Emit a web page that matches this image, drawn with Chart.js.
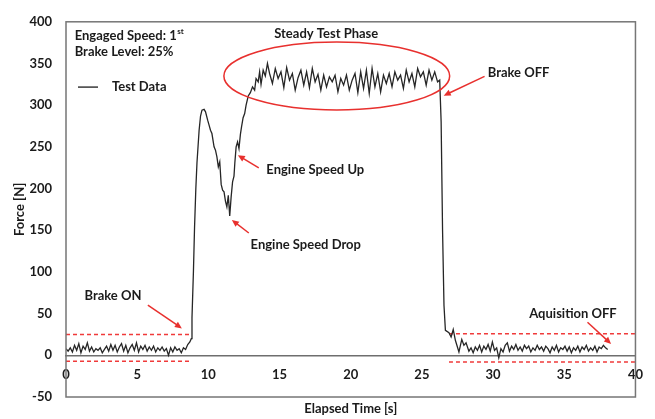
<!DOCTYPE html>
<html>
  <head>
    <meta charset="utf-8">
    <script src="https://cdn.jsdelivr.net/npm/chart.js@4.4.1/dist/chart.umd.min.js"></script>
    <style>
      body { margin: 0; background: #fff; }
    </style>
  </head>
  <body>
    <canvas id="forceChart" width="655" height="419"></canvas>
    <script>
      // measured force trace, time in s, force in N
      let timeS = [
        // idle, before brake
        0.0, 0.15, 0.3, 0.45, 0.6, 0.75, 0.9, 1.05, 1.2, 1.35,
        1.5, 1.65, 1.8, 1.95, 2.1, 2.25, 2.4, 2.55, 2.7, 2.85,
        3.0, 3.15, 3.3, 3.45, 3.6, 3.75, 3.9, 4.05, 4.2, 4.35,
        4.5, 4.65, 4.8, 4.95, 5.1, 5.25, 5.4, 5.55, 5.7, 5.85,
        6.0, 6.15, 6.3, 6.45, 6.6, 6.75, 6.9, 7.05, 7.2, 7.35,
        7.5, 7.65, 7.8, 7.95, 8.1, 8.25, 8.4, 8.55, 8.7,
        // brake on, engine speed drop / up
        8.8, 8.85, 8.95, 9.03, 9.12, 9.2, 9.35, 9.45, 9.55, 9.7,
        9.8, 9.95, 10.05, 10.15, 10.25, 10.4, 10.5, 10.6, 10.7, 10.8,
        10.9, 11.0, 11.1, 11.2, 11.3, 11.4, 11.5, 11.6, 11.7, 11.8,
        11.86, 11.95, 12.05, 12.15, 12.25, 12.33, 12.44, 12.55, 12.65, 12.8,
        12.95, 13.1, 13.25, 13.35, 13.5, 13.6, 13.7, 13.85, 14.0, 14.15,
        // steady phase
        14.3, 14.5, 14.7, 14.9, 15.1, 15.3, 15.5, 15.7, 15.9, 16.1,
        16.3, 16.5, 16.7, 16.9, 17.1, 17.3, 17.5, 17.7, 17.9, 18.1,
        18.3, 18.5, 18.7, 18.9, 19.1, 19.3, 19.5, 19.7, 19.9, 20.1,
        20.3, 20.5, 20.7, 20.9, 21.1, 21.3, 21.5, 21.7, 21.9, 22.1,
        22.3, 22.5, 22.7, 22.9, 23.1, 23.3, 23.5, 23.7, 23.9, 24.1,
        24.3, 24.5, 24.7, 24.9, 25.1, 25.3, 25.5, 25.7, 25.9, 26.1,
        // brake off
        26.25, 26.35, 26.45, 26.55, 26.65, 26.9, 27.05, 27.2, 27.35, 27.6,
        27.8, 27.95, 28.1, 28.3,
        // idle until acquisition off
        28.45, 28.6, 28.75, 28.9, 29.05, 29.2, 29.35, 29.5, 29.65, 29.8,
        29.95, 30.1, 30.25, 30.4, 30.55, 30.7, 30.85, 31.0, 31.15, 31.3,
        31.45, 31.6, 31.75, 31.9, 32.05, 32.2, 32.35, 32.5, 32.65, 32.8,
        32.95, 33.1, 33.25, 33.4, 33.55, 33.7, 33.85, 34.0, 34.15, 34.3,
        34.45, 34.6, 34.75, 34.9, 35.05, 35.2, 35.35, 35.5, 35.65, 35.8,
        35.95, 36.1, 36.25, 36.4, 36.55, 36.7, 36.85, 37.0, 37.15, 37.3,
        37.45, 37.6, 37.75, 37.9, 38.05
      ];
      let forceN = [
        8, 5, 9, 4, 12, 6, 14, 3, 11, 7,
        15, 5, 10, 4, 8, 6, 9, 3, 7, 11,
        5, 13, 6, 12, 4, 10, 14, 5, 12, 3,
        9, 13, 6, 15, 4, 11, 7, 12, 5, 10,
        6, 11, 4, 9, 6, 10, 5, 8, 0, 9,
        4, 10, 6, 8, 3, 9, 7, 13, 16,

        20, 45, 100, 154, 200, 231, 270, 287, 294, 295,
        292, 282, 276, 270, 266, 250, 246, 238, 226, 232,
        205, 198, 196, 185, 178, 192, 167, 190, 208, 215,
        231, 250, 256, 248, 265, 274, 285, 290, 300, 311,
        315, 322, 318, 332, 328, 340, 325, 342, 335, 350,

        338, 326, 344, 332, 340, 321, 345, 330, 338, 318,
        333, 342, 324, 340, 321, 344, 328, 337, 318, 336,
        322, 334, 328, 336, 316, 332, 324, 336, 318, 330,
        338, 315, 340, 320, 342, 314, 344, 322, 338, 316,
        336, 326, 338, 322, 340, 330, 336, 320, 342, 328,
        338, 322, 344, 334, 340, 324, 342, 330, 340, 328,

        330, 280, 150, 60, 30, 27, 22, 31, 18, 4,
        19, 12, 15, 5,

        9, 3, 10, 6, 12, 4, 11, 7, 13, 5,
        16, 6, 9, -3, 8, 4, 12, 15, 5, 11,
        7, 13, 6, 10, 5, 12, 8, 11, 4, 9,
        6, 12, 7, 10, 5, 11, 8, 3, 10, 6,
        12, 4, 9, 7, 11, 5, 10, 3, 9, 6,
        11, 4, 10, 7, 12, 5, 9, 6, 11, 4,
        10, 8, 12, 9, 7
      ];

      // red dashed threshold bands
      let bandOnTime = [0, 8.8];
      let bandOnForce = [25, -7];
      let bandOffTime = [26.9, 40];
      let bandOffForce = [26, -8];

      let xTicks = [0, 5, 10, 15, 20, 25, 30, 35, 40];
      let yTicks = [-50, 0, 50, 100, 150, 200, 250, 300, 350, 400];

      const FONT = 'Lato, "Liberation Sans", sans-serif';
      const RED = '#e8302e';

      function hline(times, level) {
        return times.map(t => ({ x: t, y: level }));
      }

      function bandSet(times, level) {
        return {
          data: hline(times, level),
          borderColor: '#f03a3a',
          borderWidth: 1.5,
          borderDash: [4, 3],
          pointRadius: 0
        };
      }

      // annotations, placed in data units
      const notes = [
        { text: 'Steady Test Phase', x: 18.28, y: 385 },
        { text: 'Brake OFF', x: 31.79, y: 339 },
        { text: 'Engine Speed Up', x: 17.51, y: 222 },
        { text: 'Engine Speed Drop', x: 16.84, y: 132 },
        { text: 'Brake ON', x: 3.3, y: 71 },
        { text: 'Aquisition OFF', x: 35.61, y: 50 }
      ];
      const arrows = [
        [29.4, 334.6, 26.53, 311.4],
        [13.54, 224.9, 12.07, 240],
        [12.84, 146.7, 11.65, 162.2],
        [5.75, 60.3, 8.14, 32.3],
        [36.63, 39.7, 38.29, 13.7]
      ];

      function drawArrow(ctx, x1, y1, x2, y2) {
        const a = Math.atan2(y2 - y1, x2 - x1);
        const hl = 7, hw = 3.2;
        ctx.beginPath();
        ctx.moveTo(x1, y1);
        ctx.lineTo(x2 - Math.cos(a) * hl * 0.8, y2 - Math.sin(a) * hl * 0.8);
        ctx.stroke();
        ctx.beginPath();
        ctx.moveTo(x2, y2);
        ctx.lineTo(x2 - Math.cos(a) * hl - Math.sin(a) * hw, y2 - Math.sin(a) * hl + Math.cos(a) * hw);
        ctx.lineTo(x2 - Math.cos(a) * hl + Math.sin(a) * hw, y2 - Math.sin(a) * hl - Math.cos(a) * hw);
        ctx.closePath();
        ctx.fill();
      }

      const overlay = {
        id: 'overlay',
        afterDatasetsDraw(chart) {
          const ctx = chart.ctx;
          const xs = chart.scales.x, ys = chart.scales.y;
          const area = chart.chartArea;
          ctx.save();

          // plot frame
          ctx.strokeStyle = '#767676';
          ctx.lineWidth = 1.5;
          ctx.strokeRect(area.left, area.top, area.right - area.left, area.bottom - area.top);

          // ellipse round the steady phase
          const cx = xs.getPixelForValue(19.02), cy = ys.getPixelForValue(335);
          const rx = xs.getPixelForValue(19.02 + 7.93) - cx;
          const ry = cy - ys.getPixelForValue(335 + 40.8);
          ctx.strokeStyle = RED;
          ctx.lineWidth = 1.5;
          ctx.beginPath();
          ctx.ellipse(cx, cy, rx, ry, 0, 0, Math.PI * 2);
          ctx.stroke();

          // arrows
          ctx.fillStyle = RED;
          ctx.lineWidth = 1.5;
          arrows.forEach(a => {
            drawArrow(ctx, xs.getPixelForValue(a[0]), ys.getPixelForValue(a[1]),
              xs.getPixelForValue(a[2]), ys.getPixelForValue(a[3]));
          });

          // labels
          ctx.fillStyle = '#1b1b1b';
          ctx.font = 'bold 13px ' + FONT;
          ctx.textAlign = 'center';
          ctx.textBaseline = 'middle';
          notes.forEach(n => {
            ctx.fillText(n.text, xs.getPixelForValue(n.x), ys.getPixelForValue(n.y));
          });

          // header text, top left
          ctx.textAlign = 'left';
          const lx = xs.getPixelForValue(0.61);
          const y1 = ys.getPixelForValue(383.5);
          const s1 = 'Engaged Speed: 1';
          ctx.fillText(s1, lx, y1);
          const w1 = ctx.measureText(s1).width;
          ctx.font = 'bold 8px ' + FONT;
          ctx.fillText('st', lx + w1 + 0.5, y1 - 4);
          ctx.font = 'bold 13px ' + FONT;
          ctx.fillText('Brake Level: 25%', lx, ys.getPixelForValue(363.7));

          // legend
          const ly = ys.getPixelForValue(321.7);
          ctx.strokeStyle = '#1b1b1b';
          ctx.lineWidth = 1.3;
          ctx.beginPath();
          ctx.moveTo(xs.getPixelForValue(0.84), ly);
          ctx.lineTo(xs.getPixelForValue(2.25), ly);
          ctx.stroke();
          ctx.fillText('Test Data', xs.getPixelForValue(3.23), ly);

          // x axis title below the frame
          ctx.textAlign = 'center';
          ctx.fillText('Elapsed Time [s]', (area.left + area.right) / 2, area.bottom + 12);
          ctx.restore();
        }
      };

      window.onload = function() {
        window.forceChart = new Chart(document.getElementById('forceChart'), {
          type: 'line',
          data: {
            datasets: [
              {
                data: timeS.map((t, i) => ({ x: t, y: forceN[i] })),
                borderColor: '#262626',
                borderWidth: 1.3,
                pointRadius: 0,
                tension: 0
              },
              bandSet(bandOnTime, bandOnForce[0]),
              bandSet(bandOnTime, bandOnForce[1]),
              bandSet(bandOffTime, bandOffForce[0]),
              bandSet(bandOffTime, bandOffForce[1])
            ]
          },
          options: {
            responsive: false,
            animation: false,
            layout: { padding: { left: 0, top: 12, right: 19, bottom: 22 } },
            plugins: {
              legend: { display: false },
              tooltip: { enabled: false }
            },
            scales: {
              x: {
                type: 'linear',
                min: 0,
                max: 40,
                position: { y: 0 },
                grid: { display: false, drawTicks: false },
                border: { display: true, color: '#6e6e6e', width: 1.5 },
                afterBuildTicks: s => { s.ticks = xTicks.map(v => ({ value: v })); },
                ticks: {
                  padding: 12,
                  color: '#1b1b1b',
                  font: { family: FONT, weight: 'bold', size: 13 }
                }
              },
              y: {
                min: -50,
                max: 400,
                grid: { display: false, drawTicks: false },
                border: { display: false },
                afterBuildTicks: s => { s.ticks = yTicks.map(v => ({ value: v })); },
                afterFit: s => { s.width = 66; },
                ticks: {
                  padding: 14,
                  color: '#1b1b1b',
                  font: { family: FONT, weight: 'bold', size: 13 }
                },
                title: {
                  display: true,
                  text: 'Force [N]',
                  color: '#1b1b1b',
                  font: { family: FONT, weight: 'bold', size: 13 },
                  padding: { top: 12, bottom: 0 }
                }
              }
            }
          },
          plugins: [overlay]
        });
      };
    </script>
  </body>
</html>
